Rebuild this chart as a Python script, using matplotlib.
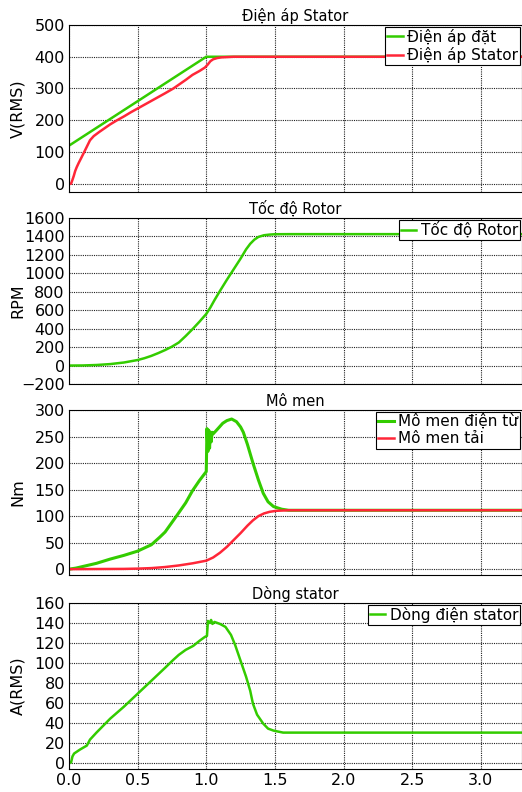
import numpy as np
import matplotlib
matplotlib.use("Agg")
import matplotlib.pyplot as plt

# values, time in seconds
# --- Dien ap Stator ---
t_v_set = [0.0, 1.0, 3.3]
v_set = [120, 400, 400]
t_v_stator = [0.0, 0.015, 0.025, 0.035, 0.045, 0.056, 0.07, 0.09, 0.12, 0.153,
              0.18, 0.22, 0.26, 0.3, 0.35, 0.4, 0.45, 0.5, 0.55, 0.6, 0.65, 0.7,
              0.76, 0.8, 0.85, 0.9, 0.95, 0.99, 1.01, 1.03, 1.05, 1.08, 1.11,
              1.2, 3.3]
v_stator = [0, 0, 12, 25, 40, 52, 65, 82, 108, 137,
            150, 163, 175, 187, 200, 212, 225, 237, 249, 261, 273, 285,
            300, 312, 327, 343, 355, 366, 375, 386, 392, 396, 398,
            400, 400]

# --- Toc do Rotor ---
t_speed = [0.0, 0.1, 0.2, 0.3, 0.4, 0.5, 0.55, 0.6, 0.65, 0.7, 0.75, 0.8,
           0.85, 0.9, 0.95, 1.0, 1.03, 1.06, 1.1, 1.15, 1.2, 1.25, 1.29, 1.32,
           1.35, 1.38, 1.42, 1.46, 1.5, 1.6, 3.3]
speed = [0, 1, 6, 16, 33, 60, 80, 105, 135, 168, 205, 250,
         320, 395, 475, 560, 630, 710, 810, 930, 1045, 1160, 1260, 1320,
         1365, 1395, 1413, 1420, 1424, 1425, 1425]

# --- Mo men ---
t_te = [0.0, 0.05, 0.1, 0.2, 0.3, 0.4, 0.5, 0.6, 0.66, 0.7, 0.78, 0.85,
        0.9, 0.95, 1.0, 1.005, 1.012, 1.018, 1.024, 1.03, 1.036, 1.042, 1.05,
        1.075, 1.12, 1.15, 1.185, 1.22, 1.25, 1.27, 1.3, 1.34, 1.38, 1.415,
        1.45, 1.49, 1.55, 1.6, 3.3]
te = [0, 2, 5, 11, 19, 26, 34, 46, 60, 70, 99, 125,
      148, 167, 184, 265, 222, 262, 228, 258, 240, 258, 255,
      262, 275, 280, 283, 278, 268, 258, 235, 200, 168, 143,
      127, 118, 113, 111, 111]
t_tl = [0.0, 0.4, 0.5, 0.6, 0.7, 0.8, 0.9, 1.0, 1.05, 1.1, 1.15, 1.2, 1.25,
        1.3, 1.34, 1.38, 1.42, 1.46, 1.51, 1.6, 3.3]
tl = [0, 0.5, 1, 2, 4, 7, 11, 16, 22, 31, 42, 55, 68,
      82, 92, 100, 105, 108, 110, 111, 111]

# --- Dong stator ---
t_is = [0.0, 0.015, 0.025, 0.037, 0.08, 0.13, 0.153, 0.2, 0.3, 0.4, 0.5,
        0.6, 0.7, 0.76, 0.8, 0.85, 0.905, 0.95, 0.99, 1.005, 1.012, 1.025,
        1.035, 1.045, 1.06, 1.1, 1.14, 1.18, 1.21, 1.24, 1.27, 1.29, 1.32,
        1.34, 1.37, 1.415, 1.45, 1.49, 1.56, 1.65, 3.3]
i_s = [0, 0, 6, 9, 13, 17, 23, 30, 44, 56, 69,
       82, 95, 103, 108, 113, 117, 122, 126, 127, 142, 140,
       143, 139, 141, 139, 136, 128, 118, 106, 94, 86, 72,
       59, 48, 39, 34, 32, 30, 30, 30]

green = "#33cc00"
red = "#ff2638"

plt.rcParams["font.family"] = "DejaVu Sans"

fig = plt.figure(figsize=(5.22, 7.92), dpi=100)
W, H = 522.0, 792.0
left = 69 / W
width = 1.0 - left
# (top px, bottom px) of each panel
boxes = [(25, 192), (218, 384), (410, 575), (603, 769)]
axes = []
for top, bot in boxes:
    axes.append(fig.add_axes([left, 1 - bot / H, width, (bot - top) / H]))

ax1, ax2, ax3, ax4 = axes

ax1.plot(t_v_set, v_set, color=green, lw=1.8, label="Điện áp đặt")
ax1.plot(t_v_stator, v_stator, color=red, lw=1.8, label="Điện áp Stator")
ax1.set_ylim(-26, 500)
ax1.set_yticks(np.arange(0, 501, 100))
ax1.set_ylabel("V(RMS)")
ax1.set_title("Điện áp Stator")

ax2.plot(t_speed, speed, color=green, lw=1.8, label="Tốc độ Rotor")
ax2.set_ylim(-200, 1600)
ax2.set_yticks(np.arange(-200, 1601, 200))
ax2.set_ylabel("RPM")
ax2.set_title("Tốc độ Rotor")

ax3.plot(t_te, te, color=green, lw=2.2, label="Mô men điện từ")
ax3.plot(t_tl, tl, color=red, lw=1.8, label="Mô men tải")
ax3.set_ylim(-11, 300)
ax3.set_yticks(np.arange(0, 301, 50))
ax3.set_ylabel("Nm")
ax3.set_title("Mô men")

ax4.plot(t_is, i_s, color=green, lw=1.8, label="Dòng điện stator")
ax4.set_ylim(-6.5, 160)
ax4.set_yticks(np.arange(0, 161, 20))
ax4.set_ylabel("A(RMS)")
ax4.set_title("Dòng stator")

for ax in axes:
    ax.set_xlim(0, 3.3)
    ax.set_xticks(np.arange(0, 3.01, 0.5))
    ax.grid(True, color="#222222", linestyle=(0, (1, 1)), linewidth=0.8)
    ax.tick_params(length=0, labelsize=11.5, pad=3)
    ax.set_title(ax.get_title(), fontsize=10.5, pad=3)
    ax.yaxis.label.set_fontsize(11.5)
    ax.yaxis.set_label_coords(-0.097, 0.5)
    for s in ax.spines.values():
        s.set_color("black")
        s.set_linewidth(0.8)
    leg = ax.legend(loc="upper right", fontsize=11, frameon=True, fancybox=False,
                    borderaxespad=0.1, handlelength=1.0, handletextpad=0.3,
                    borderpad=0.15, labelspacing=0.15)
    leg.get_frame().set_edgecolor("black")
    leg.get_frame().set_linewidth(0.8)
    leg.get_frame().set_alpha(1.0)

for ax in axes[:-1]:
    ax.set_xticklabels([])
ax4.set_xticklabels(["0.0", "0.5", "1.0", "1.5", "2.0", "2.5", "3.0"])

fig.savefig("out.png", dpi=100)
